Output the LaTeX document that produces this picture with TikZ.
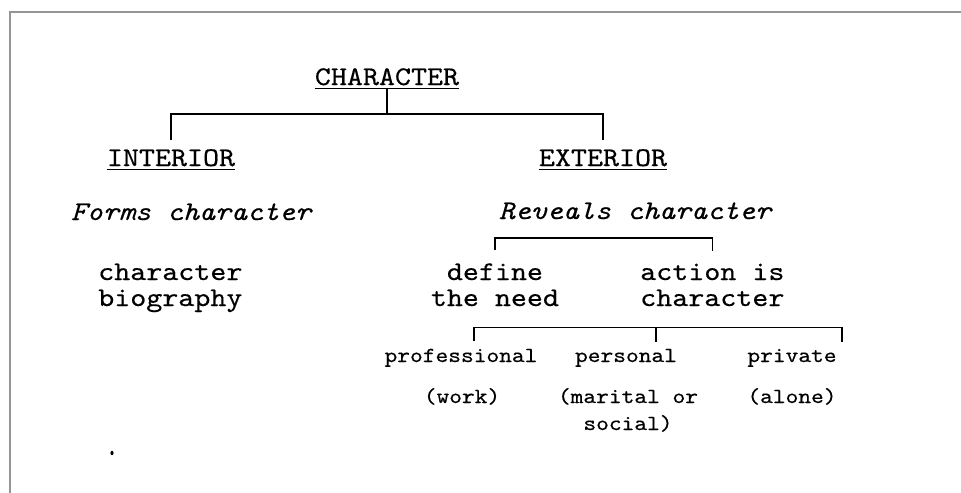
\documentclass[tikz,border=0pt]{standalone}
\usepackage{fontspec}
\newfontfamily\courier{lmmono10-regular}[Extension=.otf, ItalicFont=lmmono10-italic, FakeStretch=1.13, FakeBold=0.4]
\definecolor{framegray}{HTML}{959595}

\begin{document}
\begin{tikzpicture}[x=0.75pt, y=-0.75pt,
    big/.style={font=\courier\fontsize{20.25}{19.5}\selectfont, inner sep=0pt, anchor=base},
    small/.style={font=\courier\fontsize{16.1}{20.25}\selectfont, inner sep=0pt, anchor=base},
    tree/.style={line width=1.2pt},
    uline/.style={line width=1.4pt}]
        \useasboundingbox (0,0) rectangle (961,493);
        \draw[framegray, line width=1.5pt] (10,493) -- (10,12) -- (961,12);

        \node[big] (chr) at (387,85) {CHARACTER};
        \node[big] (int) at (171,166) {INTERIOR};
        \node[big] (ext) at (603,166) {EXTERIOR};
        \foreach \n in {chr, int, ext}
            \draw[uline] ([yshift=-2.6pt]\n.base west) -- ([yshift=-2.6pt]\n.base east);

        \coordinate (top) at (387,114);
        \draw[tree, shorten <=2.5pt] (chr.south) -- (top);
        \draw[tree, shorten <=6.5pt, shorten >=6.5pt] (int.north) |- (top) -| (ext.north);

        \node[big] (forms) at (191,220) {\itshape Forms character};
        \node[big] (reveals) at (635,219) {\itshape Reveals character};

        % base of a two-line node is the last line
        \node[big, anchor=base west, align=left] (bio) at (98,306) {character\\biography};
        \node[big, align=center] (need) at (495,306) {define\\the need};
        \node[big, anchor=base west, align=left] (act) at (640,306) {action is\\character};
        \draw[tree, shorten <=9.5pt, shorten >=9.5pt] (need.north) -- ++(0,-25) -| (act.north);

        \node[small] (prof) at (461,362) {professional};
        \node[small] (pers) at (626,362) {personal};
        \node[small] (priv) at (792,362) {private};
        \node[small] (work) at (462,403) {(work)};
        \node[small, align=center] (soc) at (628,430) {(marital or\\social)};
        \node[small] (alone) at (792,403) {(alone)};

        \path (prof.north) ++(13,-7) coordinate (t1)
              (pers.north) ++(30,-7) coordinate (t2)
              (priv.north) ++(50,-7) coordinate (t3);
        \draw[tree] (t1) -- ++(0,-14) -| (t3) (t2) -- ++(0,-14);

        \fill (112,453) ellipse (1.6 and 2.2);
\end{tikzpicture}
\end{document}
